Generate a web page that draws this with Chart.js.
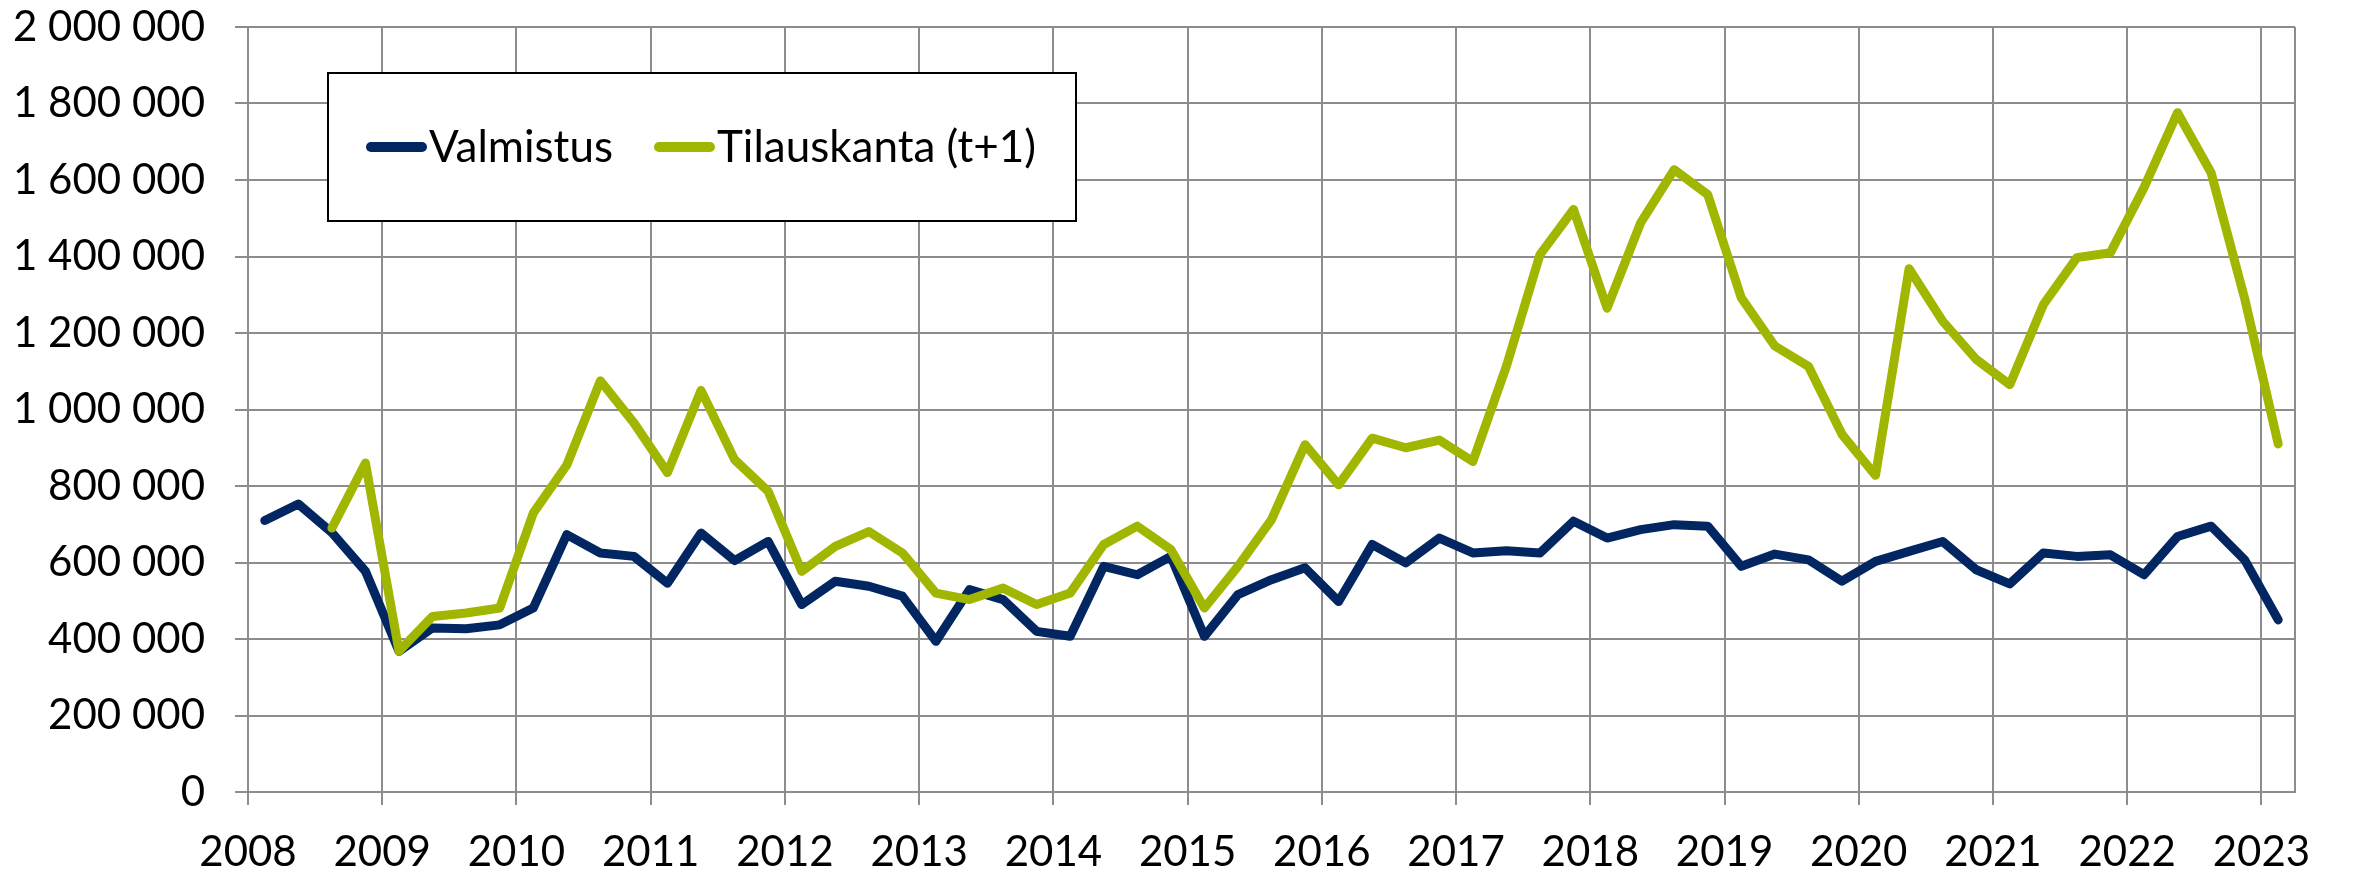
<!DOCTYPE html>
<html>
<head>
<meta charset="utf-8">
<script src="https://cdn.jsdelivr.net/npm/chart.js@4.4.1/dist/chart.umd.min.js"></script>
<style>
	html, body { margin: 0; padding: 0; background: #fff; }
	#wrap { width: 2356px; height: 873px; }
</style>
</head>
<body>
<div id="wrap"><canvas id="kuvio" width="2356" height="873"></canvas></div>
<script>
// vuodet x-akselilla, data neljännesvuosittain 2008Q1 - 2023Q1
const vuodet = ['2008', '2009', '2010', '2011', '2012', '2013', '2014', '2015', '2016', '2017', '2018', '2019', '2020', '2021', '2022', '2023'];

const valmistus = [
	710000, 753000, 678000, 577000,
	368000, 429000, 427000, 437000,
	481000, 673000, 625000, 616000,
	546000, 677000, 605000, 655000,
	490000, 551000, 538000, 512000,
	394000, 529000, 503000, 420000,
	407000, 590000, 568000, 616000,
	407000, 516000, 555000, 586000,
	498000, 647000, 599000, 664000,
	625000, 631000, 625000, 708000,
	664000, 686000, 699000, 695000,
	590000, 622000, 607000, 551000,
	603000, 629000, 655000, 581000,
	544000, 625000, 616000, 620000,
	568000, 668000, 695000, 607000,
	450000
];

const tilauskanta = [
	null, null, 690000, 860000,
	368000, 459000, 468000, 481000,
	729000, 855000, 1075000, 965000,
	835000, 1050000, 869000, 786000,
	577000, 642000, 681000, 625000,
	520000, 503000, 533000, 490000,
	520000, 647000, 695000, 634000,
	481000, 590000, 712000, 908000,
	803000, 925000, 900000, 920000,
	864000, 1113000, 1405000, 1523000,
	1265000, 1488000, 1627000, 1562000,
	1292000, 1166000, 1113000, 935000,
	828000, 1368000, 1231000, 1131000,
	1065000, 1274000, 1397000, 1410000,
	1580000, 1776000, 1619000, 1290000,
	910000
];

const sarjaNimet = ['Valmistus', 'Tilauskanta (t+1)'];
const sarjaVarit = ['#022661', '#a0b600'];
const yArvot = [0, 200000, 400000, 600000, 800000, 1000000, 1200000, 1400000, 1600000, 1800000, 2000000];

const harmaa = '#8c8c8c';
const fontti = 'Lato';

// neljännekset vuosista
const neljannekset = [];
vuodet.forEach(v => ['Q1', 'Q2', 'Q3', 'Q4'].forEach(q => neljannekset.push(v + q)));
neljannekset.length = valmistus.length;

function pisteet(arvot) {
	return arvot.map((v, i) => ({ x: i + 0.5, y: v }));
}

function muotoile(v) {
	return String(v).replace(/\B(?=(\d{3})+(?!\d))/g, ' ');
}

// oikea reuna piirtoalueelle
const kehys = {
	id: 'kehys',
	beforeDatasetsDraw(chart) {
		const c = chart.ctx, a = chart.chartArea;
		c.save();
		c.strokeStyle = harmaa;
		c.lineWidth = 2;
		c.beginPath();
		c.moveTo(a.right, a.top);
		c.lineTo(a.right, a.bottom);
		c.stroke();
		c.restore();
	}
};

// selite laatikossa kuvion sisällä
const selitePaikat = [38, 326];
const selite = {
	id: 'selite',
	afterDatasetsDraw(chart) {
		const c = chart.ctx, a = chart.chartArea;
		const x = a.left + 80, y = a.top + 46, w = 748, h = 148;
		c.save();
		c.fillStyle = '#fff';
		c.fillRect(x, y, w, h);
		c.strokeStyle = '#000';
		c.lineWidth = 2;
		c.strokeRect(x, y, w, h);
		c.font = '44px ' + fontti;
		c.textBaseline = 'middle';
		const cy = y + 74;
		chart.data.datasets.forEach((ds, i) => {
			const px = x + selitePaikat[i];
			c.strokeStyle = ds.borderColor;
			c.lineWidth = 10;
			c.lineCap = 'round';
			c.beginPath();
			c.moveTo(px + 5, cy);
			c.lineTo(px + 56, cy);
			c.stroke();
			c.fillStyle = '#000';
			c.fillText(ds.label, px + 63, cy + 1);
		});
		c.restore();
	}
};

function piirra() {
	new Chart(document.getElementById('kuvio'), {
		type: 'line',
		data: {
			labels: neljannekset,
			datasets: [
				{
					label: sarjaNimet[0],
					data: pisteet(valmistus),
					borderColor: sarjaVarit[0],
					backgroundColor: sarjaVarit[0],
					borderWidth: 9,
					pointRadius: 0,
					tension: 0,
					borderJoinStyle: 'round',
					borderCapStyle: 'round',
					order: 1
				},
				{
					label: sarjaNimet[1],
					data: pisteet(tilauskanta),
					borderColor: sarjaVarit[1],
					backgroundColor: sarjaVarit[1],
					borderWidth: 9,
					pointRadius: 0,
					tension: 0,
					borderJoinStyle: 'round',
					borderCapStyle: 'round',
					order: 0
				}
			]
		},
		options: {
			responsive: false,
			animation: false,
			devicePixelRatio: 1,
			layout: { padding: { top: 0, right: 61, left: 0, bottom: 0 } },
			plugins: {
				legend: { display: false },
				tooltip: { enabled: false }
			},
			scales: {
				x: {
					type: 'linear',
					min: 0,
					max: neljannekset.length,
					afterBuildTicks: ax => { ax.ticks = vuodet.map((v, i) => ({ value: i * 4 })); },
					afterFit: s => { s.height = 81; },
					ticks: {
						callback: v => vuodet[Math.round(v / 4)],
						autoSkip: false,
						maxRotation: 0,
						padding: 22,
						color: '#000',
						font: { family: fontti, size: 42 }
					},
					grid: { color: harmaa, lineWidth: 2, tickLength: 13 },
					border: { color: harmaa, width: 2 }
				},
				y: {
					min: 0,
					max: 2000000,
					afterBuildTicks: ax => { ax.ticks = yArvot.map(v => ({ value: v })); },
					afterFit: s => { s.width = 248; s.paddingTop = 27; s.paddingBottom = 0; },
					ticks: {
						callback: v => muotoile(v),
						padding: 30,
						color: '#000',
						font: { family: fontti, size: 42 }
					},
					grid: { color: harmaa, lineWidth: 2, tickLength: 13 },
					border: { color: harmaa, width: 2 }
				}
			}
		},
		plugins: [kehys, selite]
	});
}

if (document.fonts && document.fonts.load) {
	document.fonts.load('42px ' + fontti).then(piirra, piirra);
} else {
	piirra();
}
</script>
</body>
</html>
